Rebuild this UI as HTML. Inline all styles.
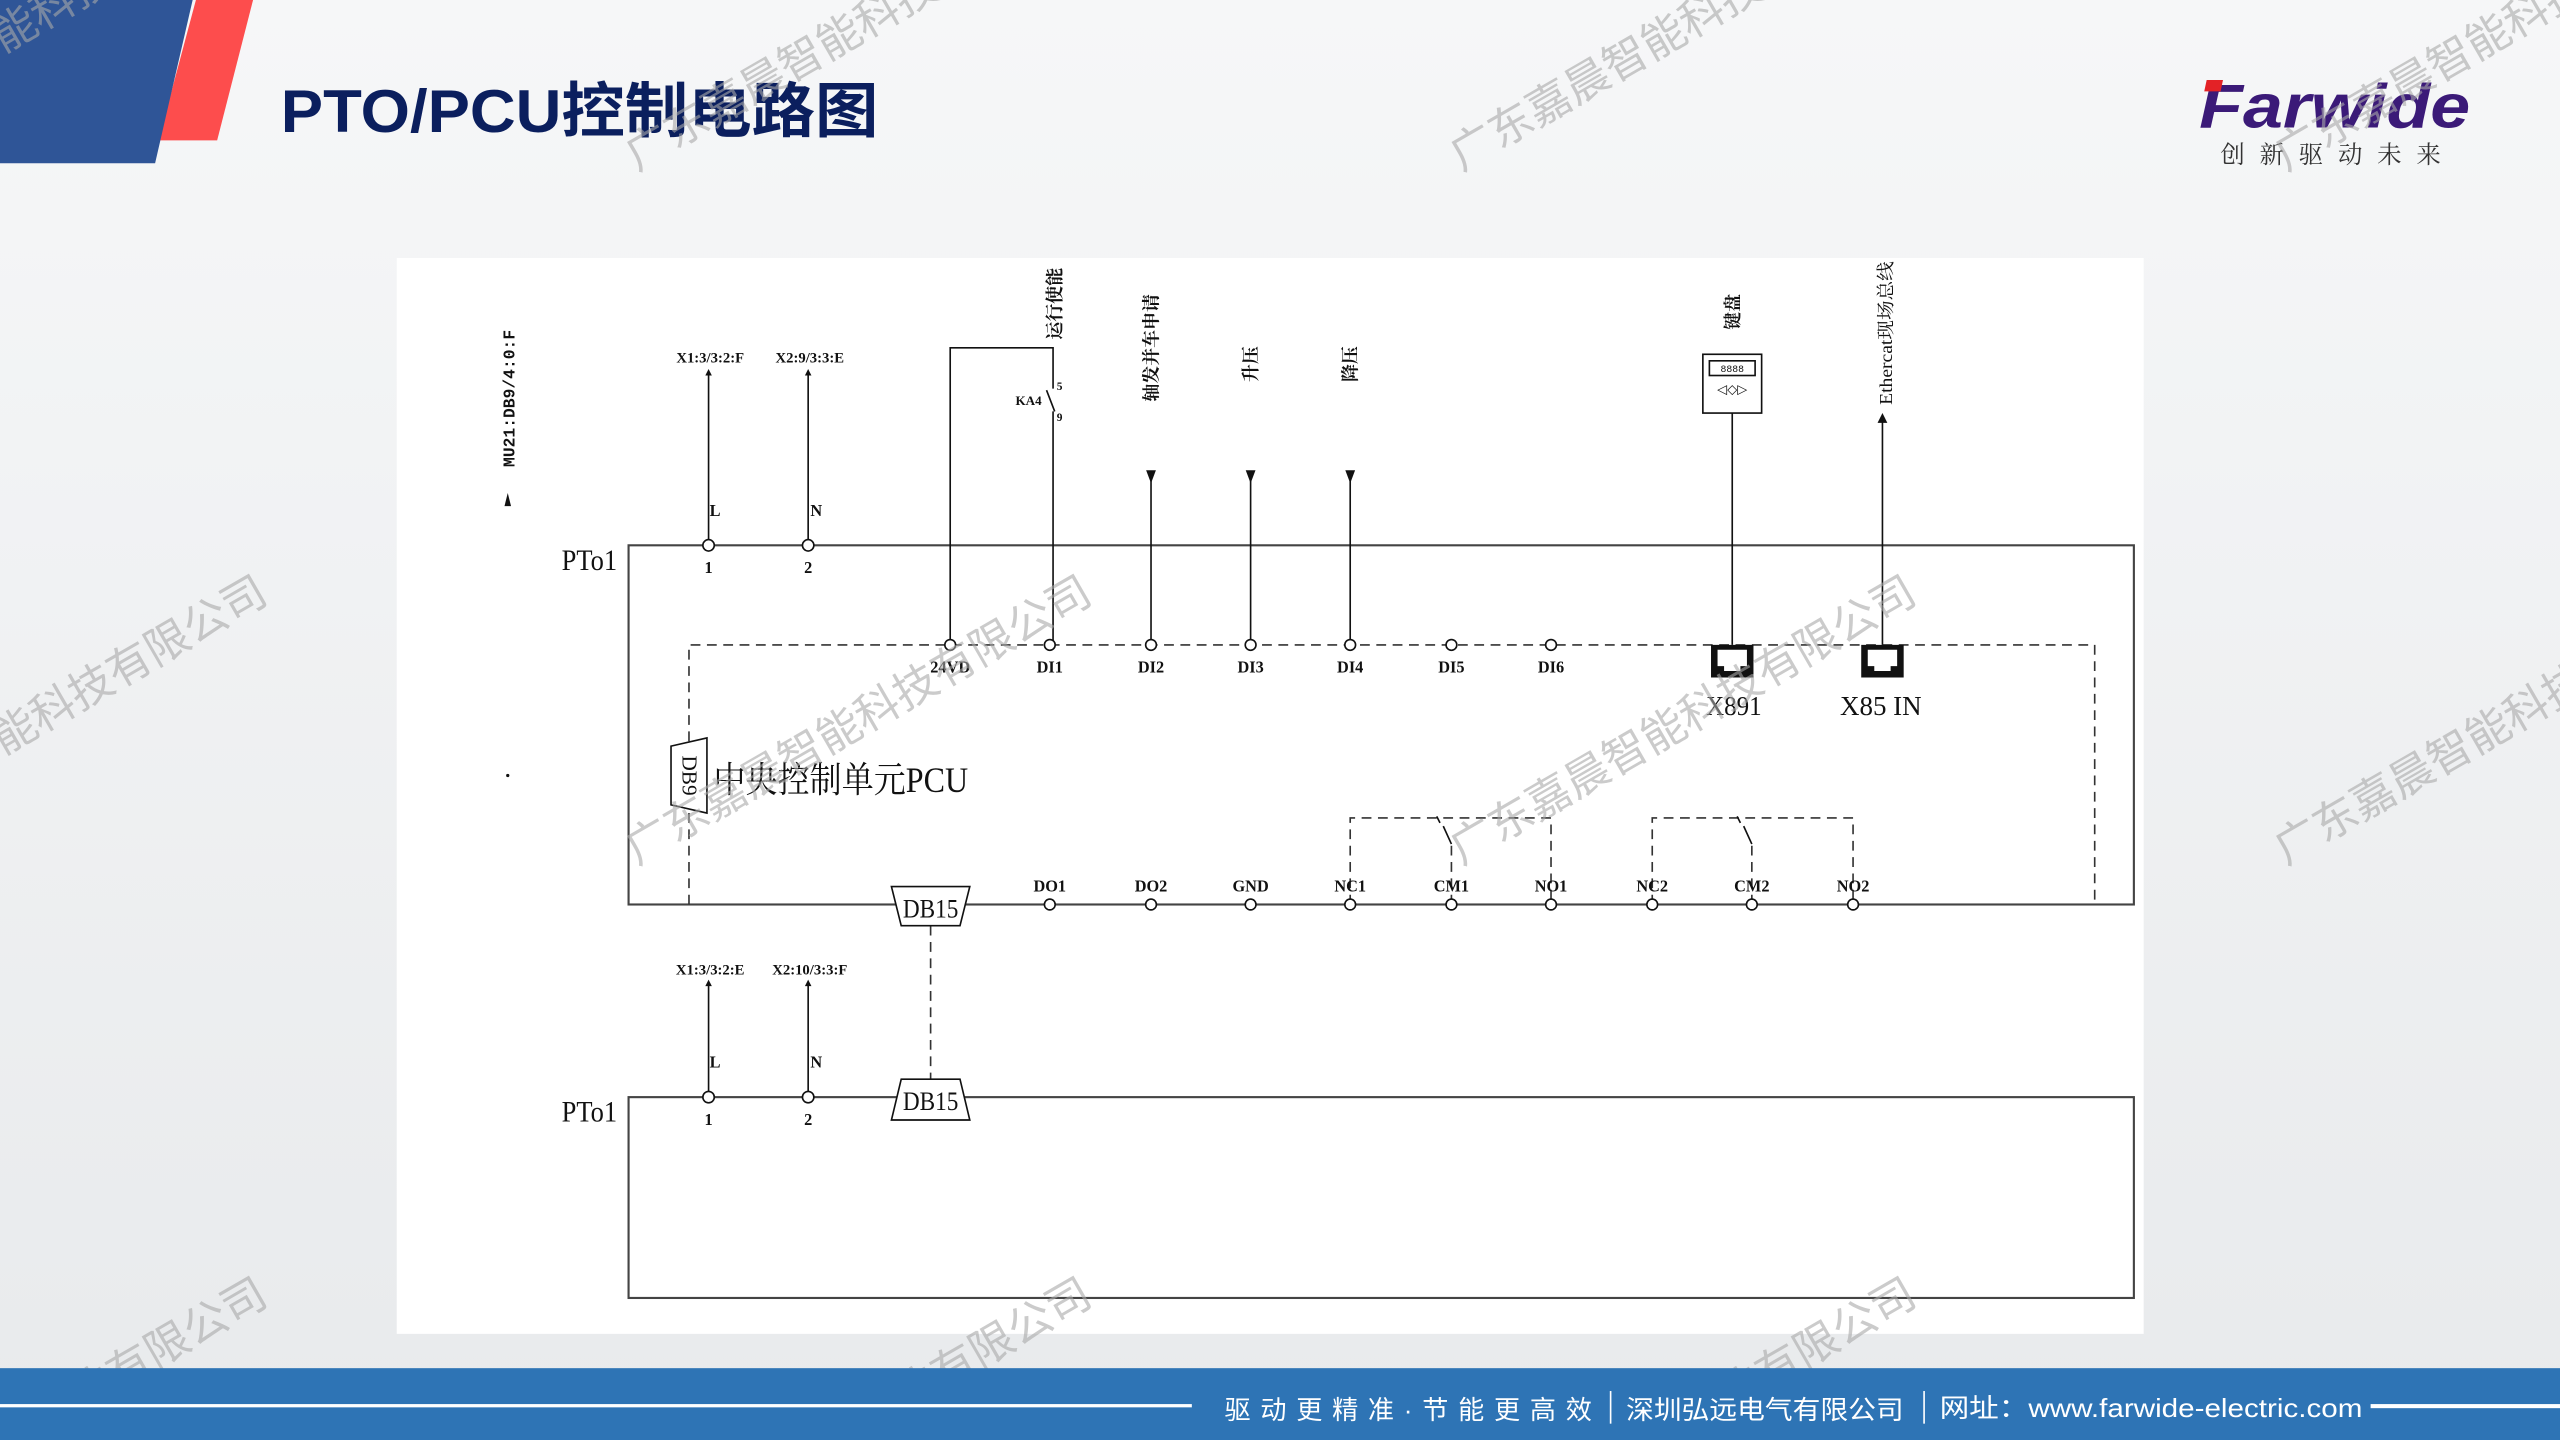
<!DOCTYPE html>
<html><head><meta charset="utf-8"><style>
html,body{margin:0;padding:0;width:2560px;height:1440px;overflow:hidden;background:#eceef0;}
svg{display:block;position:absolute;left:0;top:0}
.s{font-family:"Liberation Serif","Noto Serif CJK SC",serif;font-weight:bold;fill:#111}
.c{font-family:"Liberation Serif","Noto Serif CJK SC",serif;fill:#111}
.wm{font-family:"Liberation Sans","Noto Sans CJK SC",sans-serif;font-size:27px;fill:#a8a8a8;opacity:0.6}
</style></head><body>
<svg width="2560" height="1440" viewBox="0 0 1568 882" xmlns="http://www.w3.org/2000/svg">
<defs>
<linearGradient id="bg" x1="0" y1="0" x2="0" y2="1"><stop offset="0" stop-color="#f6f7f8"/><stop offset="1" stop-color="#e8eaec"/></linearGradient>
</defs>
<rect width="1568" height="882" fill="url(#bg)"/>
<!-- header shapes -->
<polygon points="120,0 155,0 133,86 97,86" fill="#fd4d4d"/>
<polygon points="0,0 118,0 95,100 0,100" fill="#2f5597"/>
<text x="172" y="81" font-family="Liberation Sans,'Noto Sans CJK SC',sans-serif" font-weight="bold" font-size="37" fill="#0b1f5e" textLength="366" lengthAdjust="spacingAndGlyphs">PTO/PCU控制电路图</text>
<!-- logo -->
<text x="1347" y="78" font-family="Liberation Sans,sans-serif" font-weight="bold" font-style="italic" font-size="38" fill="#3b1a78" textLength="166" lengthAdjust="spacingAndGlyphs">Farwide</text>
<rect x="1351" y="49" width="10" height="7" fill="#e32226" transform="skewX(-12) translate(11,0)"/>
<text x="1360" y="100" font-family="'Noto Serif CJK SC',serif" font-size="15" fill="#333" textLength="135">创新驱动未来</text>
<!-- panel -->
<rect x="243" y="158" width="1070" height="659" fill="#fff"/>
<g stroke="#444" stroke-width="1.3" fill="none">
<rect x="385" y="334" width="922" height="220"/>
<rect x="385" y="672" width="922" height="123"/>
</g>
<g stroke="#333" stroke-width="1" fill="none" stroke-dasharray="6,4">
<path d="M422,554 V395 H1283 V554"/>
<path d="M827,554 V501 H950 V554"/>
<path d="M1012,554 V501 H1135 V554"/>
<path d="M570,567 V661"/>
<path d="M889,554 V517"/><path d="M1073,554 V517"/>
</g>
<g stroke="#111" stroke-width="1" fill="none">
<path d="M889,517 L884,506 M880,500 L882,504"/>
<path d="M1073,517 L1068,506 M1064,500 L1066,504"/>
<path d="M434,334 V228"/><path d="M495,334 V228"/>
<path d="M434,672 V602"/><path d="M495,672 V602"/>
<path d="M582,395 V213 H645 V238 M641,239 L646,252 M645,252 V395"/>
<path d="M705,395 V292"/>
<path d="M766,395 V292"/><path d="M827,395 V292"/>
<path d="M1061,395 V253"/>
<path d="M1153,395 V258"/>
<rect x="1043" y="217" width="36" height="36"/>
<rect x="1047" y="221" width="28" height="9"/>
</g>
<g fill="#111">
<path d="M702,288 h6 l-3,8z"/><path d="M763,288 h6 l-3,8z"/><path d="M824,288 h6 l-3,8z"/>
<path d="M1150,259 h6 l-3,-6z"/>
<path d="M432,230 h4 l-2,-4z"/><path d="M493,230 h4 l-2,-4z"/>
<path d="M432,604 h4 l-2,-4z"/><path d="M493,604 h4 l-2,-4z"/>
<path d="M309,310 h4 l-2,-8z"/>
<circle cx="311" cy="475" r="1"/>
</g>
<text x="1061" y="228" font-family="Liberation Mono,monospace" font-size="6" text-anchor="middle" fill="#111">8888</text>
<text x="1061" y="241" font-family="Liberation Sans,sans-serif" font-size="8" text-anchor="middle" fill="#111">◁◇▷</text>
<g stroke="#111" stroke-width="1" fill="#fff">
<circle cx="434" cy="334" r="3.5"/><circle cx="495" cy="334" r="3.5"/>
<circle cx="434" cy="672" r="3.5"/><circle cx="495" cy="672" r="3.5"/>
<circle cx="582" cy="395" r="3.3"/><circle cx="643" cy="395" r="3.3"/><circle cx="705" cy="395" r="3.3"/><circle cx="766" cy="395" r="3.3"/><circle cx="827" cy="395" r="3.3"/><circle cx="889" cy="395" r="3.3"/><circle cx="950" cy="395" r="3.3"/>
<circle cx="643" cy="554" r="3.3"/><circle cx="705" cy="554" r="3.3"/><circle cx="766" cy="554" r="3.3"/><circle cx="827" cy="554" r="3.3"/><circle cx="889" cy="554" r="3.3"/><circle cx="950" cy="554" r="3.3"/><circle cx="1012" cy="554" r="3.3"/><circle cx="1073" cy="554" r="3.3"/><circle cx="1135" cy="554" r="3.3"/>
<path d="M546,543 L594,543 L588,567 L552,567z"/>
<path d="M552,661 L588,661 L594,686 L546,686z"/>
<path d="M411,457 L433,452 L433,498 L411,493z"/>
</g>
<g fill="#111">
<path d="M1048,395 h26 v20 h-26z M1052,398 v10 h4 v3 h10 v-3 h4 v-10z" fill-rule="evenodd"/>
<path d="M1140,395 h26 v20 h-26z M1144,398 v10 h4 v3 h10 v-3 h4 v-10z" fill-rule="evenodd"/>
</g>
<g class="s" font-size="10" text-anchor="middle">
<text x="435" y="222" font-size="9">X1:3/3:2:F</text><text x="496" y="222" font-size="9">X2:9/3:3:E</text>
<text x="435" y="597" font-size="9">X1:3/3:2:E</text><text x="496" y="597" font-size="9">X2:10/3:3:F</text>
<text x="438" y="316">L</text><text x="500" y="316">N</text>
<text x="438" y="654">L</text><text x="500" y="654">N</text>
<text x="434" y="351">1</text><text x="495" y="351">2</text>
<text x="434" y="689">1</text><text x="495" y="689">2</text>
<text x="582" y="412">24VD</text><text x="643" y="412">DI1</text><text x="705" y="412">DI2</text><text x="766" y="412">DI3</text><text x="827" y="412">DI4</text><text x="889" y="412">DI5</text><text x="950" y="412">DI6</text>
<text x="643" y="546">DO1</text><text x="705" y="546">DO2</text><text x="766" y="546">GND</text><text x="827" y="546">NC1</text><text x="889" y="546">CM1</text><text x="950" y="546">NO1</text><text x="1012" y="546">NC2</text><text x="1073" y="546">CM2</text><text x="1135" y="546">NO2</text>
<text x="630" y="248" font-size="8">KA4</text><text x="649" y="239" font-size="7">5</text><text x="649" y="258" font-size="7">9</text>
</g>
<g class="c" font-size="18">
<text x="344" y="349" textLength="34" lengthAdjust="spacingAndGlyphs">PTo1</text><text x="344" y="687" textLength="34" lengthAdjust="spacingAndGlyphs">PTo1</text>
<text x="1045" y="438" font-size="17" textLength="34" lengthAdjust="spacingAndGlyphs">X891</text>
<text x="1127" y="438" font-size="17" textLength="50" lengthAdjust="spacingAndGlyphs">X85 IN</text>
<text x="553" y="562" font-size="16" textLength="34" lengthAdjust="spacingAndGlyphs">DB15</text>
<text x="553" y="680" font-size="16" textLength="34" lengthAdjust="spacingAndGlyphs">DB15</text>
<text x="437" y="485" font-size="22" textLength="156" lengthAdjust="spacingAndGlyphs">中央控制单元PCU</text>
<text x="0" y="0" font-size="13" text-anchor="middle" transform="translate(418,475) rotate(90)">DB9</text>
</g>
<g class="s" font-size="11">
<text transform="translate(315,286) rotate(-90)" font-family="Liberation Mono,monospace" font-size="10">MU21:DB9/4:0:F</text>
<text transform="translate(650,208) rotate(-90)">运行使能</text>
<text transform="translate(709,246) rotate(-90)">轴发并车申请</text>
<text transform="translate(770,234) rotate(-90)">升压</text>
<text transform="translate(831,234) rotate(-90)">降压</text>
<text transform="translate(1065,202) rotate(-90)">键盘</text>
<text transform="translate(1159,248) rotate(-90)" font-weight="normal" textLength="88" lengthAdjust="spacingAndGlyphs">Ethercat现场总线</text>
</g>
<g class="wm">
<text transform="translate(-115,530) rotate(-30)">广东嘉晨智能科技有限公司</text>
<text transform="translate(-115,960) rotate(-30)">广东嘉晨智能科技有限公司</text>
<text transform="translate(390,105) rotate(-30)">广东嘉晨智能科技有限公司</text>
<text transform="translate(390,530) rotate(-30)">广东嘉晨智能科技有限公司</text>
<text transform="translate(390,960) rotate(-30)">广东嘉晨智能科技有限公司</text>
<text transform="translate(895,105) rotate(-30)">广东嘉晨智能科技有限公司</text>
<text transform="translate(895,530) rotate(-30)">广东嘉晨智能科技有限公司</text>
<text transform="translate(895,960) rotate(-30)">广东嘉晨智能科技有限公司</text>
<text transform="translate(1400,105) rotate(-30)">广东嘉晨智能科技有限公司</text>
<text transform="translate(1400,530) rotate(-30)">广东嘉晨智能科技有限公司</text>
<text transform="translate(-115,100) rotate(-30)">广东嘉晨智能科技有限公司</text>
</g>
<rect x="0" y="838" width="1568" height="44" fill="#2e74b5"/>
<rect x="0" y="860" width="730" height="2" fill="#fff"/>
<rect x="1452" y="860" width="116" height="2.5" fill="#fff"/>
<g font-family="Liberation Sans,'Noto Sans CJK SC',sans-serif" font-size="16" fill="#fff">
<text x="750" y="869" textLength="225">驱动更精准·节能更高效</text>
<rect x="986" y="852" width="1" height="20"/>
<text x="996" y="869" textLength="170" lengthAdjust="spacingAndGlyphs">深圳弘远电气有限公司</text>
<rect x="1178" y="852" width="1" height="20"/>
<text x="1188" y="868" textLength="259" lengthAdjust="spacingAndGlyphs">网址：www.farwide-electric.com</text>
</g>
</svg>
</body></html>
